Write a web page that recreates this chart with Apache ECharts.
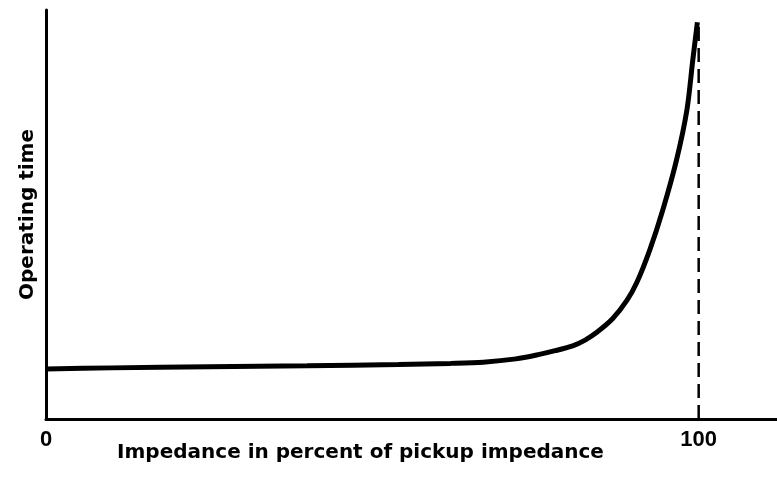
<!DOCTYPE html>
<html>
<head>
<meta charset="utf-8">
<style>
  html, body { margin: 0; padding: 0; background: #fff; }
  #chart { width: 777px; height: 477px; }
</style>
<script src="https://cdn.jsdelivr.net/npm/echarts@6/dist/echarts.min.js"></script>
</head>
<body>
<div id="chart"></div>
<script>
// impedance (% of pickup) and operating time (relative)
const impedance = [0, 10, 25, 40, 54, 62, 67, 72, 75.6, 78, 80.7, 82.6, 84.4, 86.8, 89.0, 90.5, 92.5, 94.5, 96.6, 98.2, 99.1, 99.8];
const opTime = [12.2, 12.5, 12.8, 13.0, 13.3, 13.6, 13.9, 14.7, 15.8, 16.7, 17.9, 19.3, 21.2, 24.5, 29.0, 33.3, 41.3, 51.1, 63.3, 75.6, 87.8, 97.0];
const tickLabels = [0, 100];
const pickup = 100;
const pickupTop = 97;

const chart = echarts.init(document.getElementById('chart'));

const font = 'DejaVu Sans';

chart.setOption({
  animation: false,
  grid: { left: 46, right: 0, top: 10, bottom: 58, outerBoundsMode: 'none' },
  xAxis: {
    type: 'value',
    min: 0,
    max: 112,
    splitLine: { show: false },
    axisTick: { show: false },
    axisLine: { lineStyle: { color: '#000', width: 3 } },
    axisLabel: {
      customValues: tickLabels,
      color: '#000',
      fontFamily: 'Liberation Sans',
      fontWeight: 'bold',
      fontSize: 22,
      margin: 10
    },
    name: 'Impedance in percent of pickup impedance',
    nameLocation: 'middle',
    nameGap: 24,
    nameMoveOverlap: false,
    nameTextStyle: {
      color: '#000',
      fontFamily: font,
      fontWeight: 'bold',
      fontSize: 20,
      padding: [0, 102, 0, 0]
    }
  },
  yAxis: {
    type: 'value',
    min: 0,
    max: 100,
    splitLine: { show: false },
    axisTick: { show: false },
    axisLabel: { show: false },
    axisLine: { lineStyle: { color: '#000', width: 3 } },
    name: 'Operating time',
    nameLocation: 'middle',
    nameGap: 8,
    nameMoveOverlap: false,
    nameTextStyle: {
      color: '#000',
      fontFamily: font,
      fontWeight: 'bold',
      fontSize: 20
    }
  },
  series: [
    {
      type: 'line',
      data: impedance.map((x, i) => [x, opTime[i]]),
      smooth: 0.3,
      showSymbol: false,
      lineStyle: { color: '#000', width: 5 }
    },
    {
      type: 'line',
      data: [[pickup, 0], [pickup, pickupTop]],
      showSymbol: false,
      lineStyle: { color: '#000', width: 2.5, type: [14, 7] }
    }
  ]
});
</script>
</body>
</html>
